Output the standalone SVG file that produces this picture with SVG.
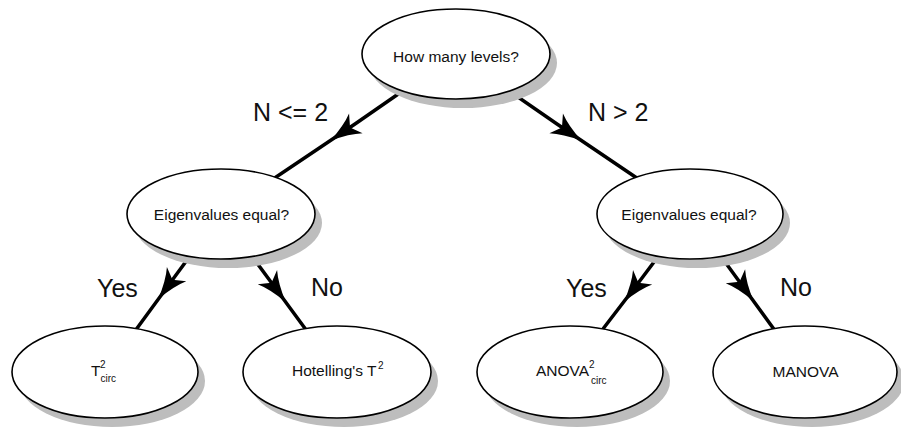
<svg xmlns="http://www.w3.org/2000/svg" width="901" height="428" viewBox="0 0 901 428">
<style>
.bg{fill:#fff}
.sh{fill:#bdbdbd;stroke:none}
.nd{fill:#fff;stroke:#000;stroke-width:1.6}
.t{font-family:"Liberation Sans",Arial,sans-serif;font-size:15.5px;fill:#111}
.s{font-family:"Liberation Sans",Arial,sans-serif;font-size:10px;fill:#111}
.lb{font-family:"Liberation Sans",Arial,sans-serif;font-size:25px;fill:#111}
.c{fill:none;stroke:#000;stroke-width:3.5;marker-mid:url(#ah)}
</style>
<defs>
<marker id="ah" markerUnits="userSpaceOnUse" orient="auto" refX="0" refY="0" markerWidth="40" markerHeight="30" overflow="visible">
<path d="M-1,-12 Q10,-5 30,0 Q10,5 -1,12 L6,0 Z" fill="#000"/>
</marker>
</defs>
<rect class="bg" x="0" y="0" width="901" height="428"/>
<g id="connectors">
<polyline class="c" points="456,54 355,124 221,214"/>
<polyline class="c" points="456,54 557,124 690,214"/>
<polyline class="c" points="221,214 176,275 105,372"/>
<polyline class="c" points="221,214 268,278 337,372"/>
<polyline class="c" points="690,214 642,278 570,372"/>
<polyline class="c" points="690,214 736,277 805,372"/>
</g>
<g id="labels">
<text class="lb" x="253" y="121">N &lt;= 2</text>
<text class="lb" x="588" y="121">N &gt; 2</text>
<text class="lb" x="97" y="297">Yes</text>
<text class="lb" x="311" y="296">No</text>
<text class="lb" x="566" y="297">Yes</text>
<text class="lb" x="780" y="296">No</text>
</g>
<g id="n-levels">
<ellipse class="sh" cx="463" cy="63" rx="94" ry="45"/>
<ellipse class="nd" cx="456" cy="54" rx="94" ry="45"/>
<text class="t" x="456" y="61.5" text-anchor="middle">How many levels?</text>
</g>
<g id="n-eig-left">
<ellipse class="sh" cx="228" cy="223" rx="94" ry="45"/>
<ellipse class="nd" cx="221" cy="214" rx="94" ry="45"/>
<text class="t" x="221.5" y="219.5" text-anchor="middle">Eigenvalues equal?</text>
</g>
<g id="n-eig-right">
<ellipse class="sh" cx="697" cy="223" rx="93" ry="45"/>
<ellipse class="nd" cx="690" cy="214" rx="93" ry="45"/>
<text class="t" x="689" y="219.5" text-anchor="middle">Eigenvalues equal?</text>
</g>
<g id="n-tcirc">
<ellipse class="sh" cx="112" cy="381" rx="93" ry="46"/>
<ellipse class="nd" cx="105" cy="372" rx="93" ry="46"/>
<text class="t" x="91" y="376">T</text>
<text class="s" x="100" y="368">2</text>
<text class="s" x="100.5" y="382">circ</text>
</g>
<g id="n-hotelling">
<ellipse class="sh" cx="344" cy="381" rx="94" ry="46"/>
<ellipse class="nd" cx="337" cy="372" rx="94" ry="46"/>
<text class="t" x="292" y="376">Hotelling's T</text>
<text class="s" x="378" y="369">2</text>
</g>
<g id="n-anova">
<ellipse class="sh" cx="577" cy="381" rx="93" ry="46"/>
<ellipse class="nd" cx="570" cy="372" rx="93" ry="46"/>
<text class="t" x="536" y="376">ANOVA</text>
<text class="s" x="589" y="368">2</text>
<text class="s" x="591" y="384">circ</text>
</g>
<g id="n-manova">
<ellipse class="sh" cx="812" cy="381" rx="92" ry="46"/>
<ellipse class="nd" cx="805" cy="372" rx="92" ry="46"/>
<text class="t" x="805.5" y="376.5" text-anchor="middle">MANOVA</text>
</g>
</svg>
